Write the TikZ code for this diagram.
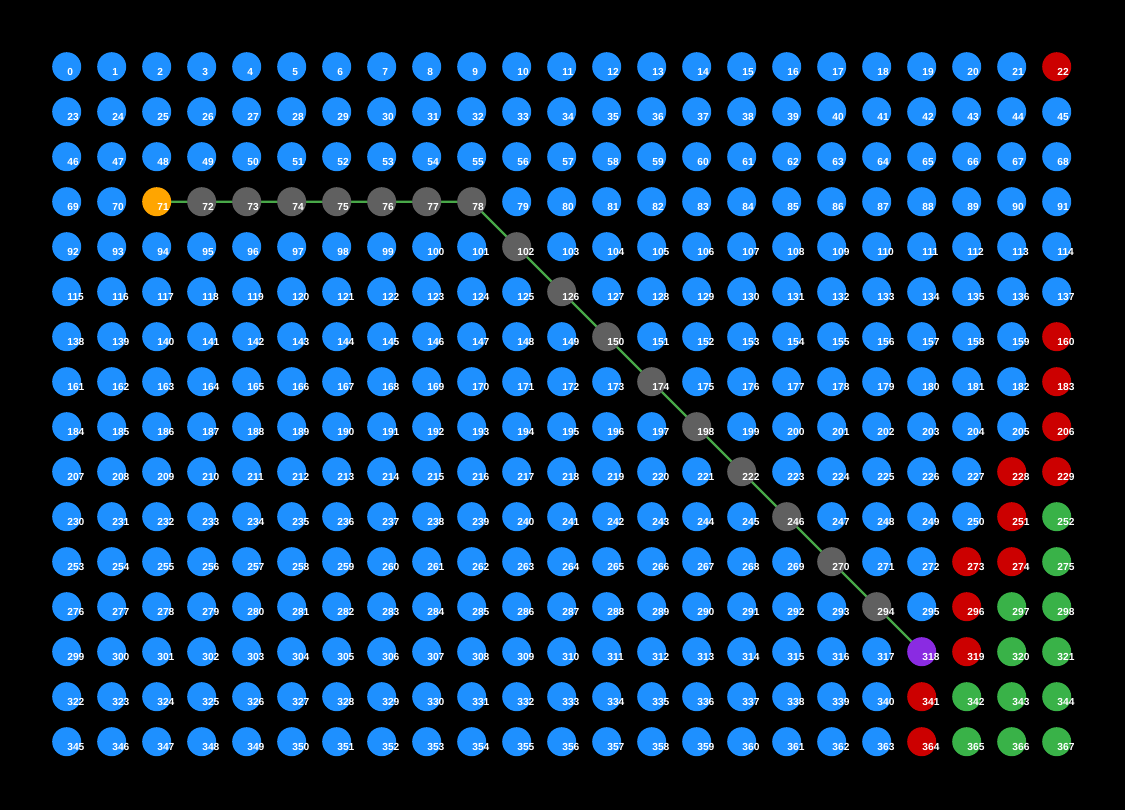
\documentclass[tikz,border=0pt]{standalone}
\usepackage{fontspec}
\setmainfont{Liberation Sans}
\usepackage{xcolor}

\definecolor{cellblue}{RGB}{30,144,255}
\definecolor{startorange}{RGB}{255,165,0}
\definecolor{goalpurple}{RGB}{138,43,226}
\definecolor{pathgray}{RGB}{96,96,96}
\definecolor{wallred}{RGB}{204,0,0}
\definecolor{zonegreen}{RGB}{57,178,72}
\definecolor{routegreen}{RGB}{72,168,72}

\pgfdeclarelayer{bg}
\pgfdeclarelayer{links}
\pgfsetlayers{bg,links,main}

\tikzset{
  cell/.style={circle, fill=cellblue, minimum size=29pt, inner sep=0pt},
  numtxt/.style={anchor=base west, inner sep=0pt, text=white, font=\bfseries\fontsize{10.2}{12}\selectfont},
  route/.style={draw=routegreen, line width=2.2pt},
  startcell/.style={fill=startorange},
  goalcell/.style={fill=goalpurple},
  pathcell/.style={fill=pathgray},
  wallcell/.style={fill=wallred},
  zonecell/.style={fill=zonegreen},
  % start and goal
  k71/.style=startcell, k318/.style=goalcell,
  % visited route
  k72/.style=pathcell, k73/.style=pathcell, k74/.style=pathcell, k75/.style=pathcell,
  k76/.style=pathcell, k77/.style=pathcell, k78/.style=pathcell, k102/.style=pathcell,
  k126/.style=pathcell, k150/.style=pathcell, k174/.style=pathcell, k198/.style=pathcell,
  k222/.style=pathcell, k246/.style=pathcell, k270/.style=pathcell, k294/.style=pathcell,
  % red cells
  k22/.style=wallcell, k160/.style=wallcell, k183/.style=wallcell, k206/.style=wallcell,
  k228/.style=wallcell, k229/.style=wallcell, k251/.style=wallcell, k273/.style=wallcell,
  k274/.style=wallcell, k296/.style=wallcell, k319/.style=wallcell, k341/.style=wallcell,
  k364/.style=wallcell,
  % green cells
  k252/.style=zonecell, k275/.style=zonecell, k297/.style=zonecell, k298/.style=zonecell,
  k320/.style=zonecell, k321/.style=zonecell, k342/.style=zonecell, k343/.style=zonecell,
  k344/.style=zonecell, k365/.style=zonecell, k366/.style=zonecell, k367/.style=zonecell
}

\begin{document}
\begin{tikzpicture}[x=1pt, y=-1pt]
  \begin{pgfonlayer}{bg}
    \fill[black] (0,0) rectangle (1125,810);
  \end{pgfonlayer}

  % grid of cells
  \foreach \row in {0,...,15}
    \foreach \col in {0,...,22} {
      \pgfmathtruncatemacro\idx{\row*23+\col}
      \node[cell, k\idx/.try] (n\idx) at (66.7+45*\col, 66.7+45*\row) {};
      \node[numtxt] (t\idx) at (67.2+45*\col, 75.7+45*\row) {\idx};
    }

  % route
  \begin{pgfonlayer}{links}
    \draw[route] (n71.center) \foreach \s in {72,...,78,102,126,150,174,198,222,246,270,294,318} { -- (n\s.center) };
  \end{pgfonlayer}
\end{tikzpicture}
\end{document}
